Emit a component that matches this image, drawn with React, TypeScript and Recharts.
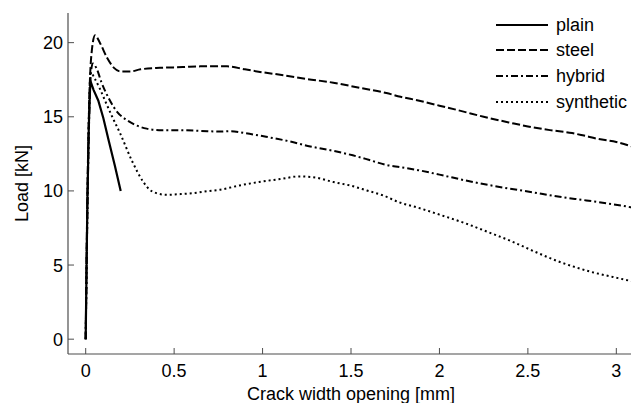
import React from 'react';
import { LineChart, Line, XAxis, YAxis } from 'recharts';

const seriesNames = ['plain', 'steel', 'hybrid', 'synthetic'];

const plainX = [0, 0.005, 0.01, 0.018, 0.025, 0.03, 0.045, 0.071, 0.1, 0.13, 0.165, 0.198];
const plainY = [0, 5, 9.5, 14.5, 17, 17.3, 16.8, 16.1, 14.9, 13.4, 11.7, 10.0];

const steelX = [0, 0.01, 0.02, 0.035, 0.053, 0.08, 0.12, 0.16, 0.2, 0.25, 0.31, 0.42, 0.55, 0.65, 0.8, 0.9, 1.0, 1.12, 1.25, 1.4, 1.55, 1.7, 1.78, 1.88, 2.0, 2.12, 2.25, 2.4, 2.5, 2.625, 2.75, 2.81, 2.9, 3.0, 3.1];
const steelY = [0, 10, 16, 19.5, 20.5, 20.0, 19.0, 18.3, 18.05, 18.05, 18.2, 18.3, 18.35, 18.4, 18.4, 18.2, 18.0, 17.8, 17.55, 17.3, 16.95, 16.6, 16.35, 16.1, 15.75, 15.4, 15.0, 14.6, 14.35, 14.1, 13.9, 13.75, 13.5, 13.3, 12.95];

const hybridX = [0, 0.01, 0.02, 0.03, 0.04, 0.06, 0.09, 0.137, 0.18, 0.232, 0.29, 0.345, 0.43, 0.514, 0.65, 0.76, 0.82, 0.9, 1.02, 1.15, 1.27, 1.4, 1.51, 1.6, 1.7, 1.78, 1.88, 2.0, 2.15, 2.3, 2.53, 2.68, 2.83, 2.95, 3.08, 3.1];
const hybridY = [0, 9, 15, 18, 18.6, 18.3, 17.3, 16.1, 15.3, 14.78, 14.4, 14.2, 14.1, 14.1, 14.05, 14.0, 14.03, 13.9, 13.65, 13.35, 13.0, 12.7, 12.4, 12.1, 11.75, 11.6, 11.4, 11.1, 10.7, 10.35, 9.9, 9.6, 9.36, 9.15, 8.9, 8.85];

const synthX = [0, 0.01, 0.02, 0.028, 0.05, 0.08, 0.109, 0.15, 0.194, 0.26, 0.326, 0.36, 0.4, 0.458, 0.53, 0.61, 0.7, 0.76, 0.87, 0.98, 1.1, 1.21, 1.3, 1.4, 1.5, 1.59, 1.68, 1.78, 1.87, 2.0, 2.15, 2.28, 2.4, 2.53, 2.66, 2.77, 2.87, 2.98, 3.08, 3.1];
const synthY = [0, 9, 16, 18.0, 17.6, 16.9, 16.1, 15.0, 13.9, 12.07, 10.6, 10.1, 9.85, 9.74, 9.78, 9.85, 10.0, 10.08, 10.37, 10.6, 10.8, 10.98, 10.9, 10.6, 10.35, 10.03, 9.7, 9.2, 8.9, 8.4, 7.8, 7.2, 6.64, 5.95, 5.3, 4.85, 4.5, 4.2, 3.93, 3.88];

const xTicks = [0, 0.5, 1, 1.5, 2, 2.5, 3];
const yTicks = [0, 5, 10, 15, 20];

const toRows = (xs: number[], ys: number[]) => xs.map((x, i) => ({ x, y: ys[i] }));
const plainData = toRows(plainX, plainY);
const steelData = toRows(steelX, steelY);
const hybridData = toRows(hybridX, hybridY);
const synthData = toRows(synthX, synthY);

const FONT = '"Liberation Sans", Arial, sans-serif';
const AXIS = '#4d4d4d';
const dashes = ['', '8 3', '7 3 2 3', '2 3'];
const widths = [2.2, 2, 2, 2];

const XTick = (props: any) => {
  const { x, y, payload } = props;
  return (
    <g>
      <line x1={x} x2={x} y1={y} y2={y - 6} stroke={AXIS} strokeWidth={1} />
      <text x={x} y={y + 23} textAnchor="middle" fontSize={18} fontFamily={FONT} fill="#000">
        {payload.value}
      </text>
    </g>
  );
};

const YTick = (props: any) => {
  const { x, y, payload } = props;
  return (
    <g>
      <line x1={x} x2={x + 6} y1={y} y2={y} stroke={AXIS} strokeWidth={1} />
      <text x={x - 5} y={y + 6.5} textAnchor="end" fontSize={18} fontFamily={FONT} fill="#000">
        {payload.value}
      </text>
    </g>
  );
};

const XLabel = (props: any) => {
  const vb = props.viewBox;
  return (
    <text x={vb.x + vb.width / 2} y={vb.y + 46} textAnchor="middle" fontSize={18} fontFamily={FONT} fill="#000">
      Crack width opening [mm]
    </text>
  );
};

const YLabel = (props: any) => {
  const vb = props.viewBox;
  const cx = 22;
  const cy = vb.y + vb.height / 2;
  return (
    <text x={cx} y={cy} transform={`rotate(-90, ${cx}, ${cy})`} textAnchor="middle" dominantBaseline="central" fontSize={18} fontFamily={FONT} fill="#000">
      Load [kN]
    </text>
  );
};

const LegendBox = () => (
  <div style={{ position: 'absolute', left: 496, top: 12, width: 135, fontFamily: FONT, fontSize: 18, color: '#000' }}>
    {seriesNames.map((n, i) => (
      <div key={n} style={{ display: 'flex', alignItems: 'center', height: 25.6 }}>
        <svg width={52} height={6} style={{ display: 'block', marginRight: 8 }}>
          <line x1={0} x2={52} y1={3} y2={3} stroke="#000" strokeWidth={widths[i]} strokeDasharray={dashes[i]} />
        </svg>
        <span style={{ lineHeight: 1 }}>{n}</span>
      </div>
    ))}
  </div>
);

export default function App() {
  return (
    <div style={{ position: 'absolute', left: 0, top: 0, width: 631, height: 403, overflow: 'hidden', background: '#fff' }}>
      <LineChart width={634} height={403} margin={{ top: 13, right: 0, bottom: 0, left: 0 }}>
        <XAxis
          type="number"
          dataKey="x"
          domain={[-0.1, 3.1]}
          ticks={xTicks}
          allowDataOverflow
          height={49}
          tickSize={0}
          tickMargin={0}
          tickLine={false}
          axisLine={{ stroke: AXIS, strokeWidth: 1.2 }}
          tick={<XTick />}
          label={<XLabel />}
        />
        <YAxis
          type="number"
          domain={[-1, 22]}
          ticks={yTicks}
          allowDataOverflow
          width={68}
          tickSize={0}
          tickMargin={0}
          tickLine={false}
          axisLine={{ stroke: AXIS, strokeWidth: 1.2 }}
          tick={<YTick />}
          label={<YLabel />}
        />
        <Line name="synthetic" data={synthData} dataKey="y" type="monotone" stroke="#000" strokeWidth={widths[3]} strokeDasharray={dashes[3]} dot={false} isAnimationActive={false} />
        <Line name="hybrid" data={hybridData} dataKey="y" type="monotone" stroke="#000" strokeWidth={widths[2]} strokeDasharray={dashes[2]} dot={false} isAnimationActive={false} />
        <Line name="steel" data={steelData} dataKey="y" type="monotone" stroke="#000" strokeWidth={widths[1]} strokeDasharray={dashes[1]} dot={false} isAnimationActive={false} />
        <Line name="plain" data={plainData} dataKey="y" type="linear" stroke="#000" strokeWidth={widths[0]} dot={false} isAnimationActive={false} />
      </LineChart>
      <LegendBox />
    </div>
  );
}
